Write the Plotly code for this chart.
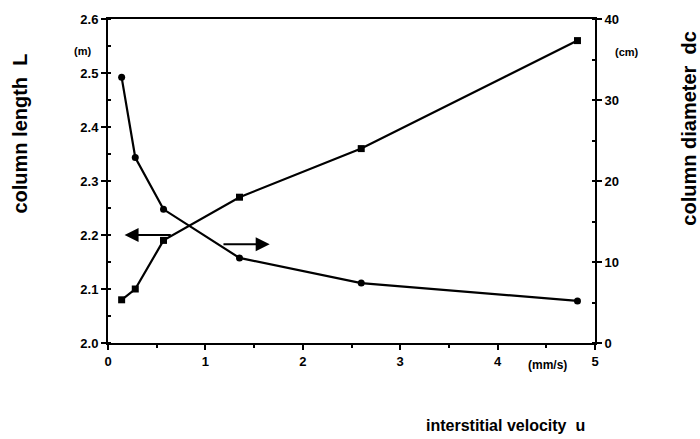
import plotly.graph_objects as go

# data
velocity = [0.14, 0.28, 0.57, 1.35, 2.60, 4.82]          # interstitial velocity u (mm/s)
column_length = [2.08, 2.10, 2.19, 2.27, 2.36, 2.56]      # L (m), left axis
column_diameter = [32.8, 22.9, 16.5, 10.5, 7.4, 5.2]      # dc (cm), right axis

x_ticks = [0, 1, 2, 3, 4, 5]
yl_ticks = [2.0, 2.1, 2.2, 2.3, 2.4, 2.5, 2.6]
yr_ticks = [0, 10, 20, 30, 40]

FONT = "Liberation Sans"
tickfont = dict(family=FONT, size=13, color="black", weight="bold")

fig = go.Figure()
fig.add_trace(go.Scatter(
    x=velocity, y=column_length, mode="lines+markers",
    line=dict(color="black", width=2.2),
    marker=dict(symbol="square", size=7, color="black"),
    yaxis="y", showlegend=False))
fig.add_trace(go.Scatter(
    x=velocity, y=column_diameter, mode="lines+markers",
    line=dict(color="black", width=2.2),
    marker=dict(symbol="circle", size=7, color="black"),
    yaxis="y2", showlegend=False))

axis_common = dict(showline=True, linecolor="black", linewidth=2, showgrid=False,
                   zeroline=False, ticks="outside", ticklen=5, tickwidth=1.5,
                   tickcolor="black", tickfont=tickfont)

fig.update_layout(
    width=700, height=439,
    margin=dict(l=108, r=105, t=15, b=96),
    plot_bgcolor="white", paper_bgcolor="white",
    xaxis=dict(range=[0, 5], tickvals=x_ticks, mirror=True,
               minor=dict(dtick=0.5, ticks="outside", ticklen=3, tickcolor="black"),
               **axis_common),
    yaxis=dict(range=[2.0, 2.6], tickvals=yl_ticks, tickformat=".1f",
               minor=dict(dtick=0.05, ticks="inside", ticklen=3, tickcolor="black"),
               **axis_common),
    yaxis2=dict(range=[0, 40], tickvals=yr_ticks, overlaying="y", side="right",
                minor=dict(dtick=5, ticks="inside", ticklen=3, tickcolor="black"),
                **axis_common),
)

# arrows indicating which axis each curve belongs to
fig.add_annotation(x=0.17, y=2.2, ax=0.66, ay=2.2, xref="x", yref="y",
                   axref="x", ayref="y", showarrow=True, arrowhead=2,
                   arrowsize=1.4, arrowwidth=2, arrowcolor="black", text="")
fig.add_annotation(x=1.66, y=12.2, ax=1.17, ay=12.2, xref="x", yref="y2",
                   axref="x", ayref="y2", showarrow=True, arrowhead=2,
                   arrowsize=1.4, arrowwidth=2, arrowcolor="black", text="")

titlefont = dict(family=FONT, size=20, color="black", weight="bold")
unitfont = dict(family=FONT, size=11, color="black", weight="bold")

fig.add_annotation(text="column length  L", xref="paper", yref="paper",
                   x=(20 - 108) / 487, y=(343 - 131) / 328, textangle=-90,
                   showarrow=False, font=titlefont, xanchor="center", yanchor="middle")
fig.add_annotation(text="column diameter  dc", xref="paper", yref="paper",
                   x=(689 - 108) / 487, y=(343 - 126) / 328, textangle=-90,
                   showarrow=False, font=titlefont, xanchor="center", yanchor="middle")
fig.add_annotation(text="interstitial velocity  u", xref="paper", yref="paper",
                   x=(505 - 108) / 487, y=(343 - 427) / 328,
                   showarrow=False, font=dict(family=FONT, size=16, color="black", weight="bold"),
                   xanchor="center", yanchor="middle")
fig.add_annotation(text="(m)", xref="paper", yref="paper",
                   x=(82 - 108) / 487, y=(343 - 47) / 328,
                   showarrow=False, font=unitfont, xanchor="center", yanchor="middle")
fig.add_annotation(text="(cm)", xref="paper", yref="paper",
                   x=(627 - 108) / 487, y=(343 - 48) / 328,
                   showarrow=False, font=unitfont, xanchor="center", yanchor="middle")
fig.add_annotation(text="(mm/s)", xref="paper", yref="paper",
                   x=(547 - 108) / 487, y=(343 - 365) / 328,
                   showarrow=False, font=dict(family=FONT, size=12, color="black", weight="bold"),
                   xanchor="center", yanchor="middle")

fig.write_html("out.html")
